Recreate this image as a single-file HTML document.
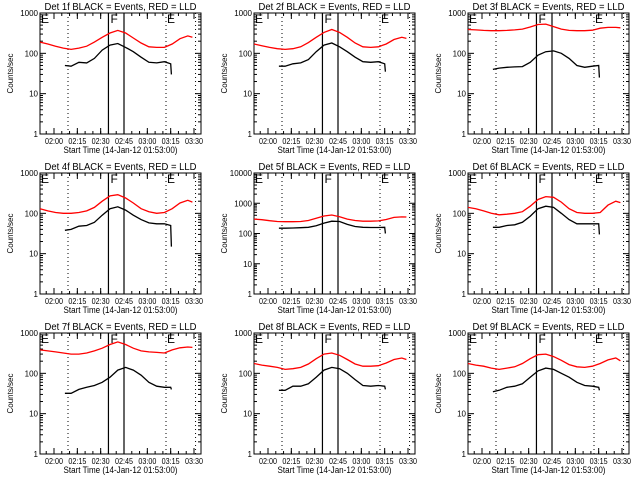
<!DOCTYPE html>
<html><head><meta charset="utf-8">
<style>
html,body{margin:0;padding:0;background:#fff;}
svg{display:block;font-family:"Liberation Sans",sans-serif;}
</style></head>
<body>
<svg id="chart" width="640" height="480" viewBox="0 0 640 480" xmlns="http://www.w3.org/2000/svg"></svg>
<script>
// times in minutes after 01:51
const redT = [0,5,10,15,20,25,30,35,40,45,50,55,60,65,70,75,80,85,90,95,98];
const blackT = [16,20,25,30,35,40,45,50,55,60,65,70,75,80,84,84.5];
const xTickMin = [9,24,39,54,69,84,99];
const xTickLabels = ["02:00","02:15","02:30","02:45","03:00","03:15","03:30"];
const yTickLabels = ["1","10","100","1000","10000"];
const detNames = ["1f","2f","3f","4f","5f","6f","7f","8f","9f"];
const decades = [3,3,3,3,4,3,3,3,3];
const dottedMin = [18,81,100];
const solidMin = [44,54];
const red1 = [190,170,150,135,125,135,150,190,250,320,370,320,240,180,145,140,140,170,230,270,250];
const black1 = [50,48,60,58,75,120,160,175,140,110,80,60,58,62,55,30];
const red2 = [170,155,140,130,125,130,145,185,250,330,390,330,250,180,145,140,145,170,220,250,235];
const black2 = [48,48,55,58,70,110,160,180,145,110,80,62,60,62,55,35];
const red3 = [390,380,370,365,365,370,380,400,450,520,530,460,400,370,365,365,375,420,440,440,430];
const black3 = [40,43,45,46,47,60,90,110,115,100,75,50,45,48,50,25];
const red4 = [130,115,105,100,100,105,115,140,200,270,290,240,180,130,110,100,105,130,180,210,190];
const black4 = [38,40,48,50,60,90,130,145,120,90,70,58,55,55,50,15];
const red5 = [300,285,265,250,245,245,250,270,320,380,410,360,300,270,255,255,260,290,340,355,350];
const black5 = [150,150,152,155,160,180,220,255,250,200,170,160,158,158,160,100];
const red6 = [140,130,115,100,92,95,100,110,150,220,260,250,190,130,105,100,100,105,160,200,185];
const black6 = [45,45,50,52,60,85,130,150,140,100,70,55,55,55,55,30];
const red7 = [380,360,340,320,300,300,320,360,420,520,600,520,420,360,340,330,320,380,430,450,440];
const black7 = [32,32,40,45,50,60,80,120,140,120,90,60,48,45,45,40];
const red8 = [175,160,150,140,125,130,140,170,230,300,320,280,220,170,150,150,155,180,220,240,220];
const black8 = [38,38,48,48,55,80,120,140,130,100,70,50,48,50,48,40];
const red9 = [175,160,150,135,125,135,145,175,230,290,300,260,210,165,145,140,150,175,215,240,205];
const black9 = [35,38,45,48,55,80,115,135,125,100,80,60,50,48,45,38];
const reds = [red1,red2,red3,red4,red5,red6,red7,red8,red9];
const blacks = [black1,black2,black3,black4,black5,black6,black7,black8,black9];

const NS = "http://www.w3.org/2000/svg";
const svg = document.getElementById("chart");
function mk(tag, attrs, parent){
  const e = document.createElementNS(NS, tag);
  for (const k in attrs) e.setAttribute(k, attrs[k]);
  (parent||svg).appendChild(e);
  return e;
}
const colL = [40,254,468], rowT = [13,173,333];
const W = 161, H = 121, XMAX = 103.5;
for (let p = 0; p < 9; p++) {
  const L = colL[p%3], T = rowT[Math.floor(p/3)];
  const nd = decades[p];
  const g = mk("g", {});
  
  
  const xs = m => L + m / XMAX * W;
  const ys = v => T + H - Math.log10(Math.max(v,1)) / nd * H;
  // title
  const t = mk("text", {x: L + W/2, y: T - 3, "text-anchor":"middle", "font-size":"10", fill:"#000", textLength:"152", lengthAdjust:"spacingAndGlyphs"}, g);
  t.textContent = "Det " + detNames[p] + " BLACK = Events, RED = LLD";
  
  
  // y label
  const yl = mk("text", {x: 0, y: 0, "text-anchor":"middle", "font-size":"8", fill:"#000", transform:`translate(${L-27},${T+H/2}) rotate(-90)`}, g);
  yl.textContent = "Counts/sec";
  
  
  // x label
  const xl = mk("text", {x: L + W/2, y: T + H + 19, "text-anchor":"middle", "font-size":"9", fill:"#000", textLength:"114", lengthAdjust:"spacingAndGlyphs"}, g);
  xl.textContent = "Start Time (14-Jan-12 01:53:00)";
  
  
  // frame
  const fr = mk("rect", {x:L, y:T, width:W, height:H, fill:"none", stroke:"#000", "stroke-width":"1"}, g);
  
  
  // y ticks
  for (let d = 0; d <= nd; d++) {
    const y = ys(Math.pow(10,d));
    mk("line", {x1:L, x2:L+6, y1:y, y2:y, stroke:"#000"}, g);
    mk("line", {x1:L+W-6, x2:L+W, y1:y, y2:y, stroke:"#000"}, g);
    const yt = mk("text", {x:L-2, y:y+3, "text-anchor":"end", "font-size":"8", fill:"#000"}, g);
    yt.textContent = yTickLabels[d];
    
    
    if (d < nd) for (let k = 2; k <= 9; k++) {
      const ym = ys(k*Math.pow(10,d));
      mk("line", {x1:L, x2:L+3, y1:ym, y2:ym, stroke:"#000"}, g);
      mk("line", {x1:L+W-3, x2:L+W, y1:ym, y2:ym, stroke:"#000"}, g);
    }
  }
  // x ticks
  for (let i = 0; i < xTickMin.length; i++) {
    const x = xs(xTickMin[i]);
    mk("line", {x1:x, x2:x, y1:T+H, y2:T+H-6, stroke:"#000"}, g);
    mk("line", {x1:x, x2:x, y1:T, y2:T+6, stroke:"#000"}, g);
    const xt = mk("text", {x:x, y:T+H+10, "text-anchor":"middle", "font-size":"8", fill:"#000", textLength:"18", lengthAdjust:"spacingAndGlyphs"}, g);
    xt.textContent = xTickLabels[i];
    
    
  }
  for (let m = 4; m < XMAX; m += 5) {
    const x = xs(m);
    mk("line", {x1:x, x2:x, y1:T+H, y2:T+H-3, stroke:"#000"}, g);
    mk("line", {x1:x, x2:x, y1:T, y2:T+3, stroke:"#000"}, g);
  }
  // vertical markers
  dottedMin.forEach(m => {
    const ln = mk("line", {x1:xs(m), x2:xs(m), y1:T, y2:T+H, stroke:"#000", "stroke-dasharray":"1,3"}, g);
    
    
  });
  solidMin.forEach(m => {
    const ln = mk("line", {x1:xs(m), x2:xs(m), y1:T, y2:T+H, stroke:"#000", "stroke-width":"1.2"}, g);
    
    
  });
  const letters = [["E", L+1], ["F", xs(solidMin[0])+2], ["E", xs(dottedMin[1])+1]];
  letters.forEach(([c, x]) => {
    const lt = mk("text", {x:x, y:T+10, "font-size":"12", fill:"#000"}, g);
    lt.textContent = c;
    
    
  });
  // series
  const rp = reds[p].map((v,i) => xs(redT[i]).toFixed(1) + "," + ys(v).toFixed(1)).join(" ");
  const rl = mk("polyline", {points: rp, fill:"none", stroke:"#ff0000", "stroke-width":"1.3"}, g);
  
  
  const bp = blacks[p].map((v,i) => xs(blackT[i]).toFixed(1) + "," + ys(v).toFixed(1)).join(" ");
  const bl = mk("polyline", {points: bp, fill:"none", stroke:"#000", "stroke-width":"1.3"}, g);
  
  
}
</script>
</body></html>
